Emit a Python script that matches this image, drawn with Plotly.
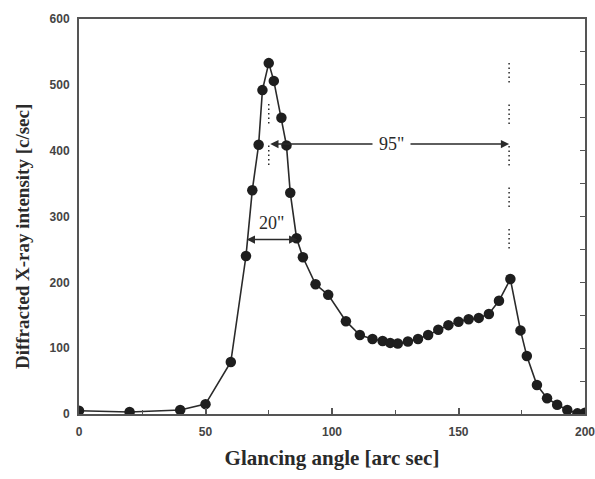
import plotly.graph_objects as go

# Rocking curve: glancing angle [arc sec] vs diffracted intensity [c/sec]
angle = [0, 20, 40, 50, 60, 66, 68.5, 71, 72.5, 75, 77, 80, 82, 83.5, 86,
         88.5, 93.5, 98.5, 105.5, 111, 116, 120, 123, 126, 130, 134, 138,
         142, 146, 150, 154, 158, 162, 166, 170.5, 174.5, 177, 181, 185,
         189, 193, 197, 200]
intensity = [5, 3, 6, 15, 79, 240, 340, 409, 492, 533, 506, 450, 408, 336, 267,
             238, 197, 181, 141, 120, 114, 111, 108, 107, 110, 114, 120,
             128, 135, 140, 144, 146, 152, 172, 205, 127, 88, 44, 24,
             14, 6, 1, 2]

x_ticks = [0, 50, 100, 150, 200]
y_ticks = [0, 100, 200, 300, 400, 500, 600]

peak_main = 75
peak_second = 170
fwhm_left, fwhm_right, fwhm_level = 65.7, 86.3, 265
sep_level = 410

ink = "#2a2a2a"
axis_col = "#555555"
serif = "Liberation Serif, Times New Roman, serif"
sans = "Liberation Sans, Arial, sans-serif"
dots = "1.5px,3px,1.5px,3px,1.5px,3px,1.5px,3px,1.5px,22px"

fig = go.Figure()

# reference lines through the two peaks
fig.add_trace(go.Scatter(x=[peak_main, peak_main], y=[471, 373], mode="lines",
                         line=dict(color=ink, width=1.5, dash=dots),
                         hoverinfo="skip", showlegend=False))
fig.add_trace(go.Scatter(x=[peak_second, peak_second], y=[533, 246], mode="lines",
                         line=dict(color=ink, width=1.5, dash=dots),
                         hoverinfo="skip", showlegend=False))

# measured curve
fig.add_trace(go.Scatter(x=angle, y=intensity, mode="lines+markers",
                         line=dict(color=ink, width=1.6),
                         marker=dict(color="#1e1e1e", size=10.5),
                         showlegend=False))

# invisible trace to carry the right-hand tick axis
fig.add_trace(go.Scatter(x=[0], y=[0], yaxis="y2", mode="markers",
                         marker=dict(opacity=0), hoverinfo="skip",
                         showlegend=False))

annotations = [
    # peak separation arrow
    dict(x=peak_second, y=sep_level, ax=peak_main, ay=sep_level,
         xref="x", yref="y", axref="x", ayref="y", text="",
         showarrow=True, arrowhead=2, arrowside="end+start",
         arrowsize=1.1, arrowwidth=1.5, arrowcolor=ink),
    dict(x=(peak_main + peak_second) / 2 + 1, y=sep_level, xref="x", yref="y",
         text='95"', showarrow=False, bgcolor="white", borderpad=6,
         font=dict(family=serif, size=18, color=ink)),
    # FWHM arrow
    dict(x=fwhm_right, y=fwhm_level, ax=fwhm_left, ay=fwhm_level,
         xref="x", yref="y", axref="x", ayref="y", text="",
         showarrow=True, arrowhead=2, arrowside="end+start",
         arrowsize=1.1, arrowwidth=1.5, arrowcolor=ink),
    dict(x=(fwhm_left + fwhm_right) / 2, y=fwhm_level + 25, xref="x", yref="y",
         text='20"', showarrow=False,
         font=dict(family=serif, size=18, color=ink)),
    # vertical axis title
    dict(x=-0.113, y=0.45, xref="paper", yref="paper", textangle=-90,
         text="Diffracted X-ray intensity [c/sec]", showarrow=False,
         xanchor="center", yanchor="middle",
         font=dict(family=serif, size=19, color=ink, weight="bold")),
]

fig.update_layout(
    width=595, height=479,
    margin=dict(l=79, r=10, t=19, b=65, autoexpand=False),
    paper_bgcolor="white", plot_bgcolor="white",
    annotations=annotations,
    xaxis=dict(range=[0, 200], tickvals=x_ticks, ticks="inside", ticklen=6,
               tickwidth=1.5, tickcolor=axis_col, automargin=False,
               ticklabeloverflow="allow", ticklabelstandoff=6,
               minor=dict(dtick=25, ticks="inside", ticklen=4, tickwidth=1.2,
                          tickcolor=axis_col),
               showgrid=False, zeroline=False,
               showline=True, linecolor=axis_col, linewidth=2, mirror=True,
               tickfont=dict(family=sans, size=12, color="#444", weight="bold"),
               title=dict(text="Glancing angle [arc sec]", standoff=12,
                          font=dict(family=serif, size=21, color=ink, weight="bold"))),
    yaxis=dict(range=[0, 600], tickvals=y_ticks, ticks="", automargin=False,
               ticklabelstandoff=5,
               showgrid=False, zeroline=False,
               showline=True, linecolor=axis_col, linewidth=2, mirror=True,
               tickfont=dict(family=sans, size=12, color="#444", weight="bold")),
    yaxis2=dict(range=[0, 600], overlaying="y", side="right", dtick=50,
                ticks="inside", ticklen=5, tickwidth=1.2, tickcolor=axis_col,
                showticklabels=False, showgrid=False, zeroline=False,
                showline=False, automargin=False),
)

fig.write_html("out.html")
